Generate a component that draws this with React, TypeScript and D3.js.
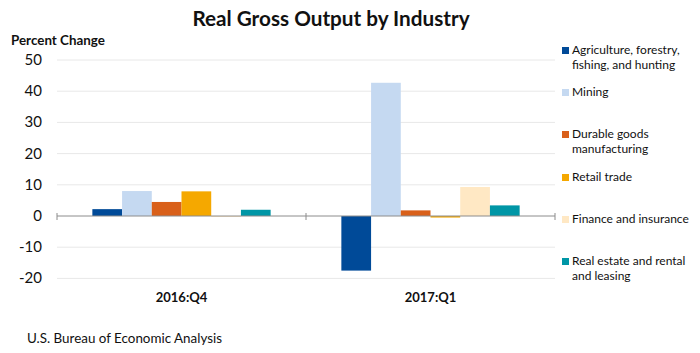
import React, { useEffect, useRef } from "react";
import * as d3 from "d3";

// quarters on the x axis
const quarters = ["2016:Q4", "2017:Q1"];

// industries (legend order) and their colours
const industries = [
  "Agriculture, forestry, fishing, and hunting",
  "Mining",
  "Durable goods manufacturing",
  "Retail trade",
  "Finance and insurance",
  "Real estate and rental and leasing",
];
const legendLines = [
  ["Agriculture, forestry,", "fishing, and hunting"],
  ["Mining"],
  ["Durable goods", "manufacturing"],
  ["Retail trade"],
  ["Finance and insurance"],
  ["Real estate and rental", "and leasing"],
];
const colors = ["#004a98", "#c5d9f1", "#d9601a", "#f5a800", "#ffe8c4", "#0096a6"];

// percent change per industry, one array per quarter
const q2016Q4 = [2.2, 8.0, 4.5, 7.9, -0.3, 2.0];
const q2017Q1 = [-17.5, 42.7, 1.8, -0.5, 9.3, 3.4];

const yTicks = [-20, -10, 0, 10, 20, 30, 40, 50];

const FONT = "Lato, 'Open Sans', sans-serif";

export default function App() {
  const ref = useRef<SVGSVGElement>(null);

  useEffect(() => {
    const svg = d3.select(ref.current);
    svg.selectAll("*").remove();

    const W = 700;
    const H = 353;
    const left = 57;
    const right = 555;
    const top = 60;
    const bottom = 278.4;

    svg.attr("width", W).attr("height", H).style("font-family", FONT);

    const rows = [q2016Q4, q2017Q1];

    const x0 = d3.scaleBand().domain(quarters).range([left, right]).paddingInner(0).paddingOuter(0);
    const x1 = d3
      .scaleBand()
      .domain(industries)
      .range([0, x0.bandwidth()])
      .paddingOuter(1.19)
      .paddingInner(0);
    const y = d3.scaleLinear().domain([-20, 50]).range([bottom, top]);

    // title
    svg
      .append("text")
      .attr("x", 331)
      .attr("y", 26)
      .attr("text-anchor", "middle")
      .style("font-size", "20.7px")
      .style("font-weight", "bold")
      .attr("fill", "#111")
      .text("Real Gross Output by Industry");

    svg
      .append("text")
      .attr("x", 11)
      .attr("y", 45)
      .style("font-size", "13.4px")
      .style("font-weight", "bold")
      .attr("fill", "#111")
      .text("Percent Change");

    // gridlines
    svg
      .append("g")
      .selectAll("line")
      .data(yTicks.filter(t => t !== 0))
      .enter()
      .append("line")
      .attr("x1", left)
      .attr("x2", right)
      .attr("y1", d => y(d))
      .attr("y2", d => y(d))
      .attr("stroke", "#e8e8e8")
      .attr("stroke-width", 1);

    // y tick labels
    svg
      .append("g")
      .selectAll("text")
      .data(yTicks)
      .enter()
      .append("text")
      .attr("x", 42)
      .attr("y", d => y(d) + 5)
      .attr("text-anchor", "end")
      .style("font-size", "15px")
      .attr("fill", "#111")
      .text(d => d);

    // bars
    const groups = svg
      .append("g")
      .selectAll("g")
      .data(rows)
      .enter()
      .append("g")
      .attr("transform", (d, i) => `translate(${x0(quarters[i])},0)`);

    groups
      .selectAll("rect")
      .data(d => d)
      .enter()
      .append("rect")
      .attr("x", (d, i) => x1(industries[i]))
      .attr("width", x1.bandwidth())
      .attr("y", d => y(Math.max(0, d)))
      .attr("height", d => Math.abs(y(d) - y(0)))
      .attr("fill", (d, i) => colors[i]);

    // zero line with category ticks
    svg
      .append("line")
      .attr("x1", left)
      .attr("x2", right)
      .attr("y1", y(0))
      .attr("y2", y(0))
      .attr("stroke", "#8c8c8c")
      .attr("stroke-width", 1);

    const edges = [left, ...quarters.map(q => x0(q) + x0.bandwidth())];
    svg
      .append("g")
      .selectAll("line")
      .data(edges)
      .enter()
      .append("line")
      .attr("x1", d => d)
      .attr("x2", d => d)
      .attr("y1", y(0) - 3)
      .attr("y2", y(0) + 4)
      .attr("stroke", "#8c8c8c");

    // category labels
    svg
      .append("g")
      .selectAll("text")
      .data(quarters)
      .enter()
      .append("text")
      .attr("x", d => x0(d) + x0.bandwidth() / 2)
      .attr("y", 302)
      .attr("text-anchor", "middle")
      .style("font-size", "13px")
      .style("font-weight", "bold")
      .attr("fill", "#111")
      .text(d => d);

    // legend
    const legendY = [54, 96, 138, 181, 223, 265];
    const legend = svg
      .append("g")
      .selectAll("g")
      .data(industries)
      .enter()
      .append("g")
      .attr("transform", (d, i) => `translate(562,${legendY[i]})`);

    legend
      .append("rect")
      .attr("x", 0)
      .attr("y", -7)
      .attr("width", 7)
      .attr("height", 7)
      .attr("fill", (d, i) => colors[i]);

    legend
      .append("text")
      .style("font-size", "12px")
      .attr("fill", "#111")
      .selectAll("tspan")
      .data((d, i) => legendLines[i])
      .enter()
      .append("tspan")
      .attr("x", 10)
      .attr("y", (d, j) => j * 15)
      .text(d => d);

    // source
    svg
      .append("text")
      .attr("x", 27)
      .attr("y", 343)
      .style("font-size", "13.4px")
      .attr("fill", "#111")
      .text("U.S. Bureau of Economic Analysis");
  }, []);

  return (
    <div style={{ position: "absolute", left: 0, top: 0, background: "#fff" }}>
      <svg ref={ref}></svg>
    </div>
  );
}
